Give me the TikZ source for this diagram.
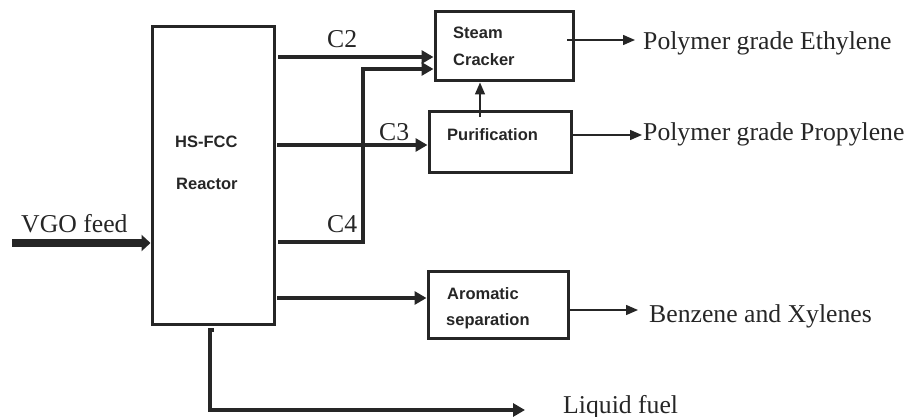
\documentclass[tikz,border=0pt]{standalone}
\usepackage{fontspec}
\setmainfont{Liberation Serif}
\newfontfamily\boxfont{Liberation Sans}
\usetikzlibrary{arrows.meta}
\begin{document}
\begin{tikzpicture}[x=1pt,y=-1pt,
  box/.style={draw=black!85,line width=3pt,inner sep=0pt},
  lbl/.style={anchor=base west,inner sep=0pt,font=\fontsize{25.7}{30}\selectfont,text=black!85},
  blbl/.style={anchor=base west,inner sep=0pt,font=\boxfont\bfseries\fontsize{16.5}{19}\selectfont,text=black!85},
  thk/.style={draw=black!85,line width=3.3pt,-{Triangle[length=12pt,width=13pt]}},
  thn/.style={draw=black!85,line width=1.5pt,-{Triangle[length=12pt,width=10pt]}},
  vgo/.style={draw=black!85,line width=7.5pt,-{Triangle[length=9pt,width=16pt]}}]
\useasboundingbox (0,0) rectangle (909,417);
% boxes
\node[box,minimum width=122pt,minimum height=297pt] (reactor) at (213,175.5) {};
\node[box,minimum width=138pt,minimum height=69pt] (cracker) at (504,46.5) {};
\node[box,minimum width=142pt,minimum height=60pt] (purif) at (500,142) {};
\node[box,minimum width=140pt,minimum height=67pt] (arom) at (498,304.5) {};
% box texts
\node[blbl] (t1) at (175,147) {HS-FCC};
\node[blbl] (t2) at (176,189) {Reactor};
\node[blbl] (t3) at (453,39) {Steam};
\node[blbl] (t4) at (453,66) {Cracker};
\node[blbl] (t5) at (447,140) {Purification};
\node[blbl] (t6) at (447,299) {Aromatic};
\node[blbl] (t7) at (446,325) {separation};
% labels
\node[lbl] (lc2) at (327,48) {C2};
\node[lbl] (lc3) at (379,140) {C3};
\node[lbl] (lc4) at (327,232) {C4};
\node[lbl] (lvgo) at (21,232) {VGO feed};
\node[lbl] (leth) at (643,50) {Polymer grade Ethylene};
\node[lbl] (lpro) at (643,140) {Polymer grade Propylene};
\node[lbl] (lben) at (649,322) {Benzene and Xylenes};
\node[lbl] (lliq) at (563,413) {Liquid fuel};
% coordinates
\coordinate (c2) at (278,57);
\coordinate (c3) at (277,145);
\coordinate (c4) at (278,242);
\coordinate (c4t) at (363,69);
\coordinate (ar) at (277,298);
\coordinate (lq) at (214,330);
\coordinate (lqend) at (525,410);
\coordinate (vg) at (12,243);
\coordinate (pu) at (480,117);
\coordinate (eo) at (567,40);
\coordinate (eoend) at (635,40);
\coordinate (po) at (571,135);
\coordinate (poend) at (642,135);
\coordinate (bo) at (568,310);
\coordinate (boend) at (638,310);
% connectors
\draw[vgo] (vg) -- (vg -| reactor.west);
\draw[thk] (c2) -- (c2 -| cracker.west);
\draw[thk] (c4) -| (c4t) -- (c4t -| cracker.west);
\draw[thk] (c3) -- (c3 -| purif.west);
\draw[thk] (ar) -- (ar -| arom.west);
\draw[thk] (lq) -- ++(-4,0) |- (lqend);
\draw[thn] (pu) -- (pu |- cracker.south);
\draw[thn] (eo) -- (eoend);
\draw[thn] (po) -- (poend);
\draw[thn] (bo) -- (boend);
\end{tikzpicture}
\end{document}
